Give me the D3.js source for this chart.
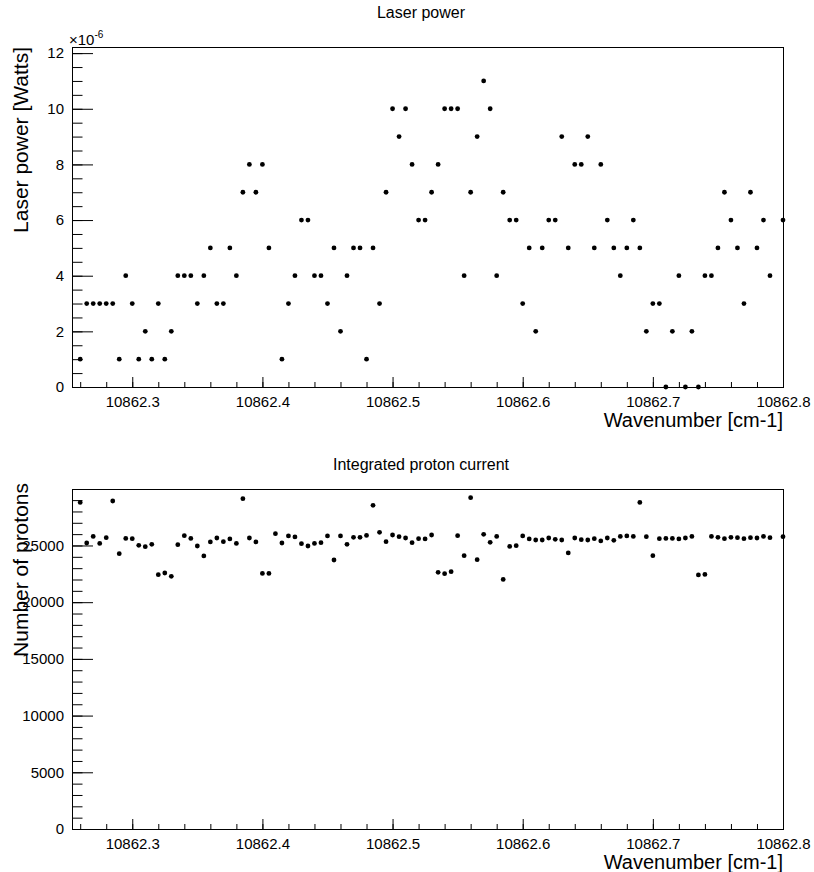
<!DOCTYPE html>
<html>
<head>
<meta charset="utf-8">
<script src="https://cdn.jsdelivr.net/npm/d3@7"></script>
<style>
  body { margin: 0; background: #fff; }
  svg text { font-family: "Liberation Sans", Arial, Helvetica, sans-serif; fill: #000; }
  .axis line { stroke: #000; }
  .axis text { font-size: 15px; }
</style>
</head>
<body>
<div id="chart"></div>
<script>
// wavenumber of every scan step [cm-1]
var wavenumber = [
  10862.260, 10862.265, 10862.270, 10862.275, 10862.280, 10862.285, 10862.290, 10862.295,
  10862.300, 10862.305, 10862.310, 10862.315, 10862.320, 10862.325, 10862.330, 10862.335,
  10862.340, 10862.345, 10862.350, 10862.355, 10862.360, 10862.365, 10862.370, 10862.375,
  10862.380, 10862.385, 10862.390, 10862.395, 10862.400, 10862.405, 10862.410, 10862.415,
  10862.420, 10862.425, 10862.430, 10862.435, 10862.440, 10862.445, 10862.450, 10862.455,
  10862.460, 10862.465, 10862.470, 10862.475, 10862.480, 10862.485, 10862.490, 10862.495,
  10862.500, 10862.505, 10862.510, 10862.515, 10862.520, 10862.525, 10862.530, 10862.535,
  10862.540, 10862.545, 10862.550, 10862.555, 10862.560, 10862.565, 10862.570, 10862.575,
  10862.580, 10862.585, 10862.590, 10862.595, 10862.600, 10862.605, 10862.610, 10862.615,
  10862.620, 10862.625, 10862.630, 10862.635, 10862.640, 10862.645, 10862.650, 10862.655,
  10862.660, 10862.665, 10862.670, 10862.675, 10862.680, 10862.685, 10862.690, 10862.695,
  10862.700, 10862.705, 10862.710, 10862.715, 10862.720, 10862.725, 10862.730, 10862.735,
  10862.740, 10862.745, 10862.750, 10862.755, 10862.760, 10862.765, 10862.770, 10862.775,
  10862.780, 10862.785, 10862.790, 10862.800
];

// laser power, in units of 1e-6 W (null = no point drawn)
var laserPower = [
  1, 3, 3, 3, 3, 3, 1, 4,
  3, 1, 2, 1, 3, 1, 2, 4,
  4, 4, 3, 4, 5, 3, 3, 5,
  4, 7, 8, 7, 8, 5, null, 1,
  3, 4, 6, 6, 4, 4, 3, 5,
  2, 4, 5, 5, 1, 5, 3, 7,
  10, 9, 10, 8, 6, 6, 7, 8,
  10, 10, 10, 4, 7, 9, 11, 10,
  4, 7, 6, 6, 3, 5, 2, 5,
  6, 6, 9, 5, 8, 8, 9, 5,
  8, 6, 5, 4, 5, 6, 5, 2,
  3, 3, 0, 2, 4, 0, 2, 0,
  4, 4, 5, 7, 6, 5, 3, 7,
  5, 6, 4, 6
];

// integrated proton current (number of protons)
var protons = [
  28800, 25220, 25800, 25185, 25690, 28920, 24275, 25625,
  25600, 25010, 24895, 25100, 22425, 22575, 22280, 25070,
  25865, 25625, 24955, 24075, 25310, 25660, 25335, 25575,
  25185, 29127, 25660, 25310, 22540, 22540, 26040, 25220,
  25840, 25750, 25160, 24955, 25185, 25245, 25840, 23720,
  25840, 25100, 25715, 25715, 25890, 28540, 26160, 25335,
  25925, 25780, 25660, 25245, 25600, 25575, 25925, 22630,
  22515, 22690, 25865, 24100, 29215, 23750, 25980, 25275,
  25800, 22010, 24920, 24980, 25840, 25575, 25485, 25485,
  25660, 25540, 25485, 24340, 25660, 25515, 25485, 25600,
  25400, 25660, 25455, 25800, 25840, 25800, 28800, 25780,
  24100, 25600, 25625, 25625, 25575, 25660, 25800, 22400,
  22450, 25800, 25715, 25600, 25715, 25690, 25600, 25690,
  25660, 25800, 25690, 25780
];

// tick labels
var xTicks = [10862.3, 10862.4, 10862.5, 10862.6, 10862.7, 10862.8];
var powerTicks = [0, 2, 4, 6, 8, 10, 12];
var protonTicks = [0, 5000, 10000, 15000, 20000, 25000];

var width = 814, height = 872;
var left = 72, right = 783;

var svg = d3.select("#chart").append("svg")
  .attr("width", width)
  .attr("height", height);

svg.append("rect").attr("width", width).attr("height", height).attr("fill", "#fff");

var x = d3.scaleLinear().domain([10862.2537, 10862.8]).range([left, right]);
var xMinor = d3.range(0, 28).map(function (k) { return 10862.26 + k * 0.02; });

function drawPanel(p) {
  var g = svg.append("g");
  var y = d3.scaleLinear().domain(p.yDomain).range([p.bottom, p.top]);

  // title
  g.append("text")
    .attr("x", 421)
    .attr("y", p.top - p.titleGap)
    .attr("text-anchor", "middle")
    .style("font-size", "16px")
    .text(p.title);

  // minor ticks first, then major ticks on top
  g.append("g")
    .attr("class", "axis")
    .attr("transform", "translate(0," + p.bottom + ")")
    .call(d3.axisBottom(x).tickValues(xMinor).tickSize(-5).tickFormat(""))
    .select(".domain").remove();

  g.append("g")
    .attr("class", "axis")
    .attr("transform", "translate(0," + p.bottom + ")")
    .call(d3.axisBottom(x).tickValues(xTicks).tickSize(-10).tickPadding(9).tickFormat(d3.format(".1f")))
    .select(".domain").remove();

  g.append("g")
    .attr("class", "axis")
    .attr("transform", "translate(" + left + ",0)")
    .call(d3.axisLeft(y).tickValues(p.yMinor).tickSize(-10.5).tickFormat(""))
    .select(".domain").remove();

  g.append("g")
    .attr("class", "axis")
    .attr("transform", "translate(" + left + ",0)")
    .call(d3.axisLeft(y).tickValues(p.yTicks).tickSize(-21).tickPadding(8).tickFormat(d3.format("d")))
    .select(".domain").remove();

  // frame
  g.append("rect")
    .attr("x", left + 0.5)
    .attr("y", p.top + 0.5)
    .attr("width", right - left)
    .attr("height", p.bottom - p.top)
    .attr("fill", "none")
    .attr("stroke", "#000")
    .attr("stroke-width", 1);

  // axis titles
  g.append("text")
    .attr("x", right)
    .attr("y", p.bottom + 40)
    .attr("text-anchor", "end")
    .style("font-size", "20px")
    .text("Wavenumber [cm-1]");

  g.append("text")
    .attr("transform", "translate(28," + p.yTitleEnd + ") rotate(-90)")
    .attr("text-anchor", "end")
    .style("font-size", "21px")
    .text(p.yTitle);

  // markers
  var pts = wavenumber.map(function (w, i) { return { x: w, y: p.values[i] }; })
    .filter(function (d) { return d.y !== null; });

  g.append("g")
    .selectAll("circle")
    .data(pts)
    .enter()
    .append("circle")
    .attr("cx", function (d) { return x(d.x); })
    .attr("cy", function (d) { return y(d.y); })
    .attr("r", 2.4)
    .attr("fill", "#000");

  return g;
}

var powerPanel = drawPanel({
  title: "Laser power",
  titleGap: 29,
  top: 47,
  bottom: 387,
  yDomain: [0, 12.22],
  yTicks: powerTicks,
  yMinor: d3.range(0, 12.01, 0.5),
  yTitle: "Laser power [Watts]",
  yTitleEnd: 47,
  values: laserPower
});

// exponent of the power axis
var expo = powerPanel.append("text")
  .attr("x", 69)
  .attr("y", 45)
  .style("font-size", "15px");
expo.append("tspan").text("\u00d710");
expo.append("tspan").attr("dy", -7).style("font-size", "10px").text("-6");

drawPanel({
  title: "Integrated proton current",
  titleGap: 19,
  top: 489,
  bottom: 829,
  yDomain: [0, 29980],
  yTicks: protonTicks,
  yMinor: d3.range(0, 29001, 1000),
  yTitle: "Number of protons",
  yTitleEnd: 483,
  values: protons
});
</script>
</body>
</html>
